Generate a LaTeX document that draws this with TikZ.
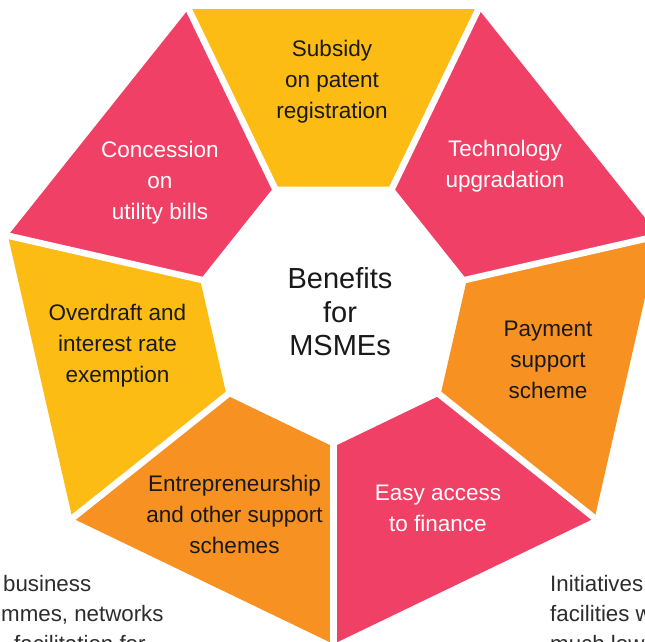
\documentclass[tikz,border=0pt]{standalone}
\usepackage{fontspec}
\setmainfont{Liberation Sans}
\definecolor{segyellow}{RGB}{252,188,20}
\definecolor{segpink}{RGB}{240,64,101}
\definecolor{segorange}{RGB}{246,145,34}
\definecolor{ink}{RGB}{25,25,25}
\definecolor{noteink}{RGB}{45,45,45}
\begin{document}
\begin{tikzpicture}[x=1pt,y=1pt,
  seglabel/.style={align=center, font=\fontsize{22.5}{31}\selectfont, inner sep=0pt},
  darklabel/.style={seglabel, text=ink},
  lightlabel/.style={seglabel, text=white},
  hub/.style={align=center, font=\fontsize{29}{33.5}\selectfont, text=ink, inner sep=0pt},
  sidenote/.style={anchor=base west, font=\fontsize{22.3}{30}\selectfont, text=noteink, inner sep=0pt},
  spoke/.style={white, line width=6.5pt},
]
\useasboundingbox (0,0) rectangle (645,642);
\fill[white] (0,0) rectangle (645,642);
\clip (0,0) rectangle (645,642);

% heptagonal ring
\coordinate (O) at (333.5,332);
\def\Ro{334}\def\Ri{136.8}\def\Rs{130}\def\Rt{360}
\foreach \a/\b/\c in {64.286/115.714/segyellow, 115.714/167.143/segpink,
    167.143/218.571/segyellow, 218.571/270/segorange, 270/321.429/segpink,
    321.429/372.857/segorange, 12.857/64.286/segpink}
  \fill[\c] ([shift={(\a:\Ro)}]O) -- ([shift={(\b:\Ro)}]O)
    -- ([shift={(\b:\Ri)}]O) -- ([shift={(\a:\Ri)}]O) -- cycle;

% white gaps between the segments
\foreach \a in {64.286,115.714,167.143,218.571,270,321.429,12.857}
  \draw[spoke] ([shift={(\a:\Rs)}]O) -- ([shift={(\a:\Rt)}]O);

% labels
\node[hub] (hub) at (340,330) {Benefits\\for\\MSMEs};
\node[darklabel] (patent) at (332,560) {Subsidy\\on patent\hspace*{16pt}\\registration};
\node[lightlabel] (utility) at (160,459.5) {Concession\\on\\utility bills};
\node[lightlabel] (tech) at (505,475.5) {Technology\\upgradation};
\node[darklabel] (overdraft) at (117.5,296) {Overdraft and\\interest rate\\exemption};
\node[darklabel] (payment) at (548,282) {Payment\\support\\scheme};
\node[lightlabel] (finance) at (438,134) {Easy access\\to finance};
\node[darklabel] (entre) at (234.5,128) {Entrepreneurship\\and other support\\schemes};

% neighbouring notes
\node[sidenote] (noteA) at (3,50) {business};
\node[sidenote] (noteB) at (1,20) {mmes, networks};
\node[sidenote] (noteC) at (14,-10) {facilitation for};
\node[sidenote] (noteD) at (550,50) {Initiatives};
\node[sidenote] (noteE) at (550,20) {facilities w};
\node[sidenote] (noteF) at (550,-10) {much low};
\end{tikzpicture}
\end{document}
